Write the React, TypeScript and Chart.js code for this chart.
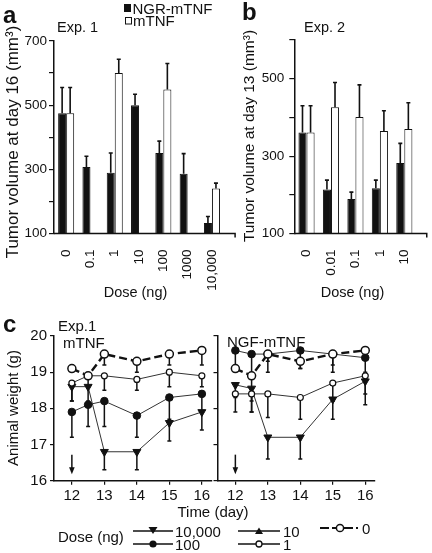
import React, { useEffect, useRef } from 'react';
import { Chart, registerables } from 'chart.js';

Chart.register(...registerables);

const FONT = '"Liberation Sans", Arial, Helvetica, sans-serif';
const INK = '#111';

// ---------- Panel a (Exp. 1): tumor volume at day 16 ----------
const doseA = ['0', '0.1', '1', '10', '100', '1000', '10,000'];
const ngrA = [475, 307, 289, 500, 351, 286, 133];
const ngrTopA = [555, 341, 351, 534, 388, 349, 153];
const mtnfA = [475, null, 600, null, 549, null, 240];
const mtnfTopA = [555, null, 643, null, 630, null, 257];
const yLabelsA = [100, 300, 500, 700];

// ---------- Panel b (Exp. 2): tumor volume at day 13 ----------
const doseB = ['0', '0.01', '0.1', '1', '10'];
const ngrB = [361, 214, 189, 217, 282];
const ngrTopB = [430, 238, 207, 238, 333];
const mtnfB = [361, 426, 401, 365, 370];
const mtnfTopB = [430, 490, 484, 417, 438];
const yLabelsB = [100, 300, 500];

// ---------- Panel c: animal weight (g) over time (day) ----------
const days = [12, 12.5, 13, 14, 15, 16];
// mTNF
const m10000 = [18.6, 18.6, 16.8, 16.8, 17.6, 17.9];
const m10000Low = [18.2, 18.2, 16.3, 16.3, 17.1, 17.4];
const m100 = [17.9, 18.1, 18.2, 17.8, 18.3, 18.4];
const m100Low = [17.2, 17.5, 17.5, 17.2, 17.7, 17.9];
const m1 = [18.7, 18.9, 18.9, 18.8, 19.0, 18.9];
const m1Low = [18.2, 18.6, 18.5, 18.5, 18.6, 18.6];
const m0 = [19.1, 18.9, 19.5, 19.3, 19.5, 19.6];
const m0Low = [19.1, 18.9, 19.2, 19.0, 19.2, 19.2];
// NGF-mTNF
const n10000 = [18.65, 18.55, 17.2, 17.2, 18.25, 18.75];
const n10000Low = [18.3, 18.2, 16.6, 16.6, 17.7, 18.1];
const n100 = [19.6, 19.5, 19.5, 19.6, 19.5, 19.4];
const n100Low = [19.1, 17.9, 19.0, 19.1, 19.0, 19.0];
const n1 = [18.4, 18.4, 18.4, 18.3, 18.7, 18.9];
const n1Low = [17.9, 17.9, 17.75, 17.7, 18.2, 18.4];
const n0 = [19.1, 18.9, 19.5, 19.3, 19.5, 19.6];
const n0Low = [19.1, 18.9, 19.3, 19.1, 19.2, 19.6];
const arrowDay = 12;
const arrowFrom = 16.72;
const arrowTo = 16.18;

// ---------- plugins ----------
function drawErr(chart: any, opts: any) {
  const ctx = chart.ctx;
  const ys = chart.scales.y;
  ctx.save();
  ctx.strokeStyle = INK;
  ctx.lineWidth = opts.width || 1.5;
  chart.data.datasets.forEach((ds: any, i: number) => {
    const ends = ds.errEnds;
    if (!ends) return;
    const meta = chart.getDatasetMeta(i);
    meta.data.forEach((el: any, j: number) => {
      const v = ends[j];
      if (v == null) return;
      const x = el.x;
      const y = el.y;
      if (!isFinite(x) || !isFinite(y)) return;
      const y1 = ys.getPixelForValue(v);
      if (Math.abs(y1 - y) < 0.5) return;
      ctx.beginPath();
      ctx.moveTo(x, y);
      ctx.lineTo(x, y1);
      ctx.moveTo(x - opts.cap, y1);
      ctx.lineTo(x + opts.cap, y1);
      ctx.stroke();
    });
  });
  ctx.restore();
}

const errorBars = {
  id: 'errorBars',
  beforeDatasetsDraw(chart: any, _a: any, opts: any) {
    if (opts.layer === 'before') drawErr(chart, opts);
  },
  afterDatasetsDraw(chart: any, _a: any, opts: any) {
    if (opts.layer !== 'before') drawErr(chart, opts);
  },
};

const baseline = {
  id: 'baseline',
  afterDatasetsDraw(chart: any, _a: any, opts: any) {
    const { ctx, chartArea } = chart;
    const ys = chart.scales.y;
    const y = ys.getPixelForValue(ys.min);
    const xEnd = chartArea.right + opts.extend;
    ctx.save();
    ctx.strokeStyle = INK;
    ctx.lineWidth = 1.5;
    ctx.beginPath();
    ctx.moveTo(chartArea.left, y);
    ctx.lineTo(xEnd, y);
    ctx.lineTo(xEnd, y + 4);
    ctx.stroke();
    ctx.restore();
  },
};

const doseArrow = {
  id: 'doseArrow',
  afterDatasetsDraw(chart: any, _a: any, opts: any) {
    const { ctx } = chart;
    const xs = chart.scales.x;
    const ys = chart.scales.y;
    const x = xs.getPixelForValue(opts.day);
    const y0 = ys.getPixelForValue(opts.from);
    const y1 = ys.getPixelForValue(opts.to);
    ctx.save();
    ctx.strokeStyle = INK;
    ctx.fillStyle = INK;
    ctx.lineWidth = 1.5;
    ctx.beginPath();
    ctx.moveTo(x, y0);
    ctx.lineTo(x, y1 - 5);
    ctx.stroke();
    ctx.beginPath();
    ctx.moveTo(x - 2.8, y1 - 7);
    ctx.lineTo(x + 2.8, y1 - 7);
    ctx.lineTo(x, y1);
    ctx.closePath();
    ctx.fill();
    ctx.restore();
  },
};

// ---------- configs ----------
function barConfig(p: any) {
  const tickFont = { family: FONT, size: 13.5 };
  return {
    type: 'bar',
    data: {
      labels: p.labels,
      datasets: [
        { label: 'NGR-mTNF', data: p.ngr, errEnds: p.ngrTop, backgroundColor: INK, borderColor: INK, borderWidth: 1 },
        { label: 'mTNF', data: p.mtnf, errEnds: p.mtnfTop, backgroundColor: '#fff', borderColor: INK, borderWidth: 1 },
      ],
    },
    options: {
      responsive: false,
      animation: false,
      events: [],
      layout: { padding: p.padding },
      datasets: { bar: { categoryPercentage: 0.66, barPercentage: 1 } },
      scales: {
        x: {
          type: 'category',
          offset: true,
          grid: { display: false },
          border: { display: false },
          ticks: { autoSkip: false, minRotation: 90, maxRotation: 90, padding: 8, color: INK, font: tickFont },
          afterFit: (s: any) => { s.height = p.xHeight; },
        },
        y: {
          type: 'linear',
          min: p.min,
          max: p.max,
          grid: { display: true, drawOnChartArea: false, drawTicks: true, tickLength: 5, color: INK, lineWidth: 1.2 },
          border: { display: true, color: INK, width: 1.5 },
          ticks: {
            stepSize: 100,
            padding: p.yPad,
            color: INK,
            font: tickFont,
            callback: (v: any) => (p.labeled.includes(v) ? String(v) : ''),
          },
          afterFit: (s: any) => { s.width = p.yWidth; },
        },
      },
      plugins: {
        legend: { display: false },
        tooltip: { enabled: false },
        errorBars: { layer: 'after', cap: 2, width: 1.6 },
        baseline: { extend: p.extend },
      },
    },
    plugins: [errorBars, baseline],
  };
}

function lineConfig(p: any) {
  const mk = (vals: number[]) => days.map((d, i) => ({ x: d, y: vals[i] }));
  const tickFont = { family: FONT, size: 15 };
  const thin = { borderColor: '#333', borderWidth: 1, pointBorderColor: INK };
  return {
    type: 'line',
    data: {
      datasets: [
        {
          label: '0', data: mk(p.d0), errEnds: p.d0Low, borderColor: INK, borderWidth: 2.4, borderDash: [8, 4],
          pointStyle: 'circle', pointRadius: 4, pointBackgroundColor: '#fff', pointBorderColor: INK, pointBorderWidth: 1.5,
        },
        {
          label: '1', data: mk(p.d1), errEnds: p.d1Low, ...thin,
          pointStyle: 'circle', pointRadius: 3, pointBackgroundColor: '#fff', pointBorderWidth: 1.2,
        },
        {
          label: '100', data: mk(p.d100), errEnds: p.d100Low, ...thin,
          pointStyle: 'circle', pointRadius: 3.8, pointBackgroundColor: INK, pointBorderWidth: 1,
        },
        {
          label: '10,000', data: mk(p.d10000), errEnds: p.d10000Low, ...thin,
          pointStyle: 'triangle', rotation: 180, pointRadius: 4.6, pointBackgroundColor: INK, pointBorderWidth: 1,
        },
      ],
    },
    options: {
      responsive: false,
      animation: false,
      events: [],
      layout: { padding: p.padding },
      scales: {
        x: {
          type: 'linear',
          min: 11.45,
          max: 16.3,
          grid: { display: true, drawOnChartArea: false, drawTicks: true, tickLength: 4, color: INK, lineWidth: 1.2 },
          border: { display: true, color: INK, width: 1.5 },
          ticks: { stepSize: 1, includeBounds: false, padding: 2, color: INK, font: tickFont },
          afterFit: (s: any) => { s.height = p.xHeight; },
        },
        y: {
          type: 'linear',
          min: 16,
          max: 20,
          grid: { display: true, drawOnChartArea: false, drawTicks: true, tickLength: 4, color: INK, lineWidth: 1.2 },
          border: { display: true, color: INK, width: 1.5 },
          ticks: {
            stepSize: 1,
            padding: 3,
            color: INK,
            font: tickFont,
            callback: (v: any) => (p.showY ? String(v) : ''),
          },
          afterFit: (s: any) => { s.width = p.yWidth; },
        },
      },
      plugins: {
        legend: { display: false },
        tooltip: { enabled: false },
        errorBars: { layer: 'before', cap: 2, width: 1.5 },
        doseArrow: { day: arrowDay, from: arrowFrom, to: arrowTo },
      },
    },
    plugins: [errorBars, doseArrow],
  };
}

// ---------- components ----------
function ChartCanvas({ x, y, w, h, make }: any) {
  const ref = useRef<HTMLCanvasElement>(null);
  useEffect(() => {
    const c = new Chart(ref.current as HTMLCanvasElement, make() as any);
    return () => c.destroy();
  }, []);
  return (
    <canvas
      ref={ref}
      width={w}
      height={h}
      style={{ position: 'absolute', left: x, top: y, width: w, height: h, display: 'block' }}
    />
  );
}

function T({ x, y, size = 15, bold = false, anchor = 'start', children }: any) {
  return (
    <div
      style={{
        position: 'absolute',
        left: x,
        top: y - 0.8465 * size,
        fontSize: size,
        lineHeight: `${size}px`,
        fontFamily: FONT,
        fontWeight: bold ? 700 : 400,
        color: INK,
        whiteSpace: 'nowrap',
        transform: anchor === 'middle' ? 'translateX(-50%)' : undefined,
      }}
    >
      {children}
    </div>
  );
}

function VT({ cx, cy, size = 15, children }: any) {
  return (
    <div
      style={{
        position: 'absolute',
        left: cx,
        top: cy,
        fontSize: size,
        lineHeight: `${size}px`,
        fontFamily: FONT,
        color: INK,
        whiteSpace: 'nowrap',
        transform: 'translate(-50%, -50%) rotate(-90deg)',
      }}
    >
      {children}
    </div>
  );
}

export default function App() {
  return (
    <div style={{ position: 'absolute', left: 0, top: 0, width: 432, height: 553, background: '#fff', overflow: 'hidden' }}>
      <ChartCanvas
        x={0} y={0} w={250} h={300}
        make={() => barConfig({
          labels: doseA, ngr: ngrA, ngrTop: ngrTopA, mtnf: mtnfA, mtnfTop: mtnfTopA,
          min: 100, max: 700, labeled: yLabelsA, yPad: 2,
          padding: { left: 0, top: 41, right: 25.9, bottom: 0 }, yWidth: 54, xHeight: 66.5, extend: 11,
        })}
      />
      <ChartCanvas
        x={230} y={0} w={202} h={300}
        make={() => barConfig({
          labels: doseB, ngr: ngrB, ngrTop: ngrTopB, mtnf: mtnfB, mtnfTop: mtnfTopB,
          min: 100, max: 600, labeled: yLabelsB, yPad: 5,
          padding: { left: 0, top: 40, right: 15.45, bottom: 0 }, yWidth: 64.3, xHeight: 66.5, extend: 10.2,
        })}
      />
      <ChartCanvas
        x={0} y={310} w={230} h={200}
        make={() => lineConfig({
          d0: m0, d0Low: m0Low, d1: m1, d1Low: m1Low, d100: m100, d100Low: m100Low, d10000: m10000, d10000Low: m10000Low,
          padding: { left: 0, top: 26, right: 18.4, bottom: 0 }, yWidth: 54, xHeight: 29.3, showY: true,
        })}
      />
      <ChartCanvas
        x={190} y={310} w={210} h={200}
        make={() => lineConfig({
          d0: n0, d0Low: n0Low, d1: n1, d1Low: n1Low, d100: n100, d100Low: n100Low, d10000: n10000, d10000Low: n10000Low,
          padding: { left: 0, top: 26, right: 25, bottom: 0 }, yWidth: 27.5, xHeight: 29.3, showY: false,
        })}
      />

      {/* legend graphics */}
      <svg width={432} height={553} style={{ position: 'absolute', left: 0, top: 0, pointerEvents: 'none' }}>
        <rect x={124} y={4} width={7} height={8} fill={INK} />
        <rect x={125.5} y={17.5} width={6} height={6.5} fill="#fff" stroke={INK} strokeWidth={1} />

        <line x1={133} y1={531} x2={173} y2={531} stroke={INK} strokeWidth={1.5} />
        <polygon points="148.5,527 157.5,527 153,534" fill={INK} />
        <line x1={133} y1={544} x2={173} y2={544} stroke={INK} strokeWidth={1.5} />
        <circle cx={153} cy={544} r={3.6} fill={INK} />

        <line x1={238} y1={531} x2={280} y2={531} stroke={INK} strokeWidth={1.5} />
        <polygon points="255,534 263,534 259,527.5" fill={INK} />
        <line x1={238} y1={544} x2={280} y2={544} stroke={INK} strokeWidth={1.5} />
        <circle cx={259} cy={544} r={3} fill="#fff" stroke={INK} strokeWidth={1.3} />

        <line x1={320} y1={528} x2={358} y2={528} stroke={INK} strokeWidth={1.8} strokeDasharray="9 3" />
        <circle cx={340} cy={528} r={3.6} fill="#fff" stroke={INK} strokeWidth={1.5} />
      </svg>

      {/* panel a texts */}
      <T x={3} y={23} size={24} bold>a</T>
      <T x={132.5} y={13.5} size={15}>NGR-mTNF</T>
      <T x={133} y={26} size={15}>mTNF</T>
      <T x={57} y={32.2} size={14.5}>Exp. 1</T>
      <VT cx={12} cy={142} size={17}>Tumor volume at day 16 (mm³)</VT>
      <T x={135.5} y={297.5} size={14.5} anchor="middle">Dose (ng)</T>

      {/* panel b texts */}
      <T x={242} y={20} size={24} bold>b</T>
      <T x={304} y={32.2} size={14.5}>Exp. 2</T>
      <VT cx={249} cy={136} size={15.5}>Tumor volume at day 13 (mm³)</VT>
      <T x={352.5} y={297.5} size={14.5} anchor="middle">Dose (ng)</T>

      {/* panel c texts */}
      <T x={3} y={332} size={24} bold>c</T>
      <T x={58} y={330.4} size={15}>Exp.1</T>
      <T x={63} y={347.4} size={15}>mTNF</T>
      <T x={227} y={346.4} size={15}>NGF-mTNF</T>
      <VT cx={12} cy={408} size={15}>Animal weight (g)</VT>
      <T x={213} y={516.5} size={15} anchor="middle">Time (day)</T>
      <T x={58} y={541.5} size={15}>Dose (ng)</T>
      <T x={175} y={536.5} size={15}>10,000</T>
      <T x={175} y={550} size={15}>100</T>
      <T x={283} y={536.5} size={15}>10</T>
      <T x={283} y={550} size={15}>1</T>
      <T x={362} y={533.5} size={15}>0</T>
    </div>
  );
}
